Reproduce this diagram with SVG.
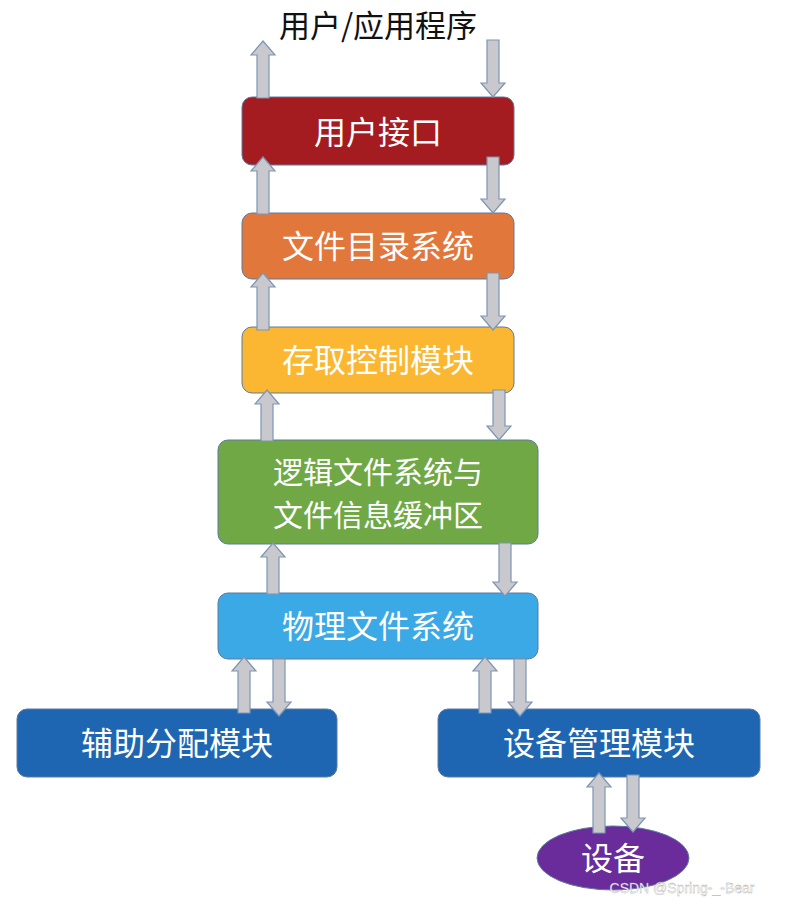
<svg xmlns="http://www.w3.org/2000/svg" width="790" height="907" viewBox="0 0 790 907">
<style>
.t{font-family:"Noto Sans CJK SC","Noto Sans",sans-serif;fill:#fff;font-size:32px;text-anchor:middle;dominant-baseline:central}
.b{stroke:#5d7aa0;stroke-width:1}
.a{fill:#c9c9cd;stroke:#7d95b5;stroke-width:1.2}
</style>
<rect width="790" height="907" fill="#fff"/>
<text x="378" y="23" class="t" style="fill:#111;font-size:31px">用户/应用程序</text>
<g id="n1"><rect class="b" x="242" y="97" width="272" height="68" rx="10" fill="#a51c20"/><text class="t" x="378" y="130">用户接口</text></g>
<g id="n2"><rect class="b" x="242" y="213" width="272" height="66" rx="10" fill="#e2773b"/><text class="t" x="378" y="244">文件目录系统</text></g>
<g id="n3"><rect class="b" x="242" y="327" width="272" height="66" rx="10" fill="#fbb731"/><text class="t" x="378" y="358">存取控制模块</text></g>
<g id="n4"><rect class="b" x="218" y="440" width="320" height="104" rx="10" fill="#70a845"/><text class="t" x="378" y="470" style="font-size:30px">逻辑文件系统与</text><text class="t" x="378" y="513" style="font-size:30px">文件信息缓冲区</text></g>
<g id="n5"><rect class="b" x="218" y="593" width="320" height="66" rx="10" fill="#3ba9e6"/><text class="t" x="378" y="624">物理文件系统</text></g>
<g id="n6"><rect class="b" x="17" y="709" width="320" height="68" rx="10" fill="#1f66b2"/><text class="t" x="177" y="741">辅助分配模块</text></g>
<g id="n7"><rect class="b" x="438" y="709" width="322" height="68" rx="10" fill="#1f66b2"/><text class="t" x="599" y="741">设备管理模块</text></g>
<g id="n8"><ellipse cx="613" cy="858" rx="76" ry="32" fill="#6a2c9a" stroke="#5d7aa0"/><text class="t" x="613" y="856">设备</text></g>
<g id="connectors">
<polygon class="a" points="263,41 275,55 269,55 269,98 257,98 257,55 251,55"/>
<polygon class="a" points="493,97 505,83 499,83 499,40 487,40 487,83 481,83"/>
<polygon class="a" points="263,157 275,171 269,171 269,214 257,214 257,171 251,171"/>
<polygon class="a" points="493,213 505,199 499,199 499,157 487,157 487,199 481,199"/>
<polygon class="a" points="263,273 275,287 269,287 269,330 257,330 257,287 251,287"/>
<polygon class="a" points="493,330 505,316 499,316 499,273 487,273 487,316 481,316"/>
<polygon class="a" points="267,390 279,404 273,404 273,441 261,441 261,404 255,404"/>
<polygon class="a" points="499,440 511,426 505,426 505,390 493,390 493,426 487,426"/>
<polygon class="a" points="273,543 285,557 279,557 279,594 267,594 267,557 261,557"/>
<polygon class="a" points="505,596 517,582 511,582 511,543 499,543 499,582 493,582"/>
<polygon class="a" points="244,657 256,671 250,671 250,713 238,713 238,671 232,671"/>
<polygon class="a" points="279,716 291,702 285,702 285,659 273,659 273,702 267,702"/>
<polygon class="a" points="485,657 497,671 491,671 491,713 479,713 479,671 473,671"/>
<polygon class="a" points="520,716 532,702 526,702 526,659 514,659 514,702 508,702"/>
<polygon class="a" points="599,773 611,787 605,787 605,833 593,833 593,787 587,787"/>
<polygon class="a" points="633,832 645,818 639,818 639,775 627,775 627,818 621,818"/>
</g>
<text x="682" y="893" style="font-family:'Liberation Sans',sans-serif;font-size:14px;fill:#fff;text-anchor:middle;stroke:#999;stroke-width:0.3">CSDN @Spring-_-Bear</text>
</svg>
